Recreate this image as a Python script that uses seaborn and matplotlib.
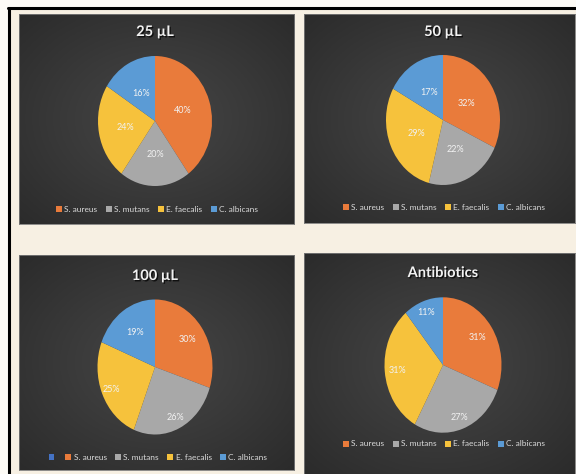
import numpy as np
import seaborn as sns
import matplotlib.pyplot as plt
import matplotlib.patheffects as pe
from matplotlib.patches import Patch
from matplotlib.lines import Line2D
from matplotlib.colors import LinearSegmentedColormap

# data
species = ['S. aureus', 'S. mutans', 'E. faecalis', 'C. albicans']
titles = ['25 µL', '50 µL', '100 µL', 'Antibiotics']
pct_25 = [40, 20, 24, 16]
pct_50 = [32, 22, 29, 17]
pct_100 = [30, 26, 25, 19]
pct_antibiotics = [31, 27, 31, 11]

sns.set_theme(style='dark')
plt.rcParams['font.family'] = ['Lato', 'DejaVu Sans']
colors = sns.color_palette(['#E97B3B', '#A8A8A8', '#F6C23C', '#5B9BD5'])

W, H = 576, 474
fig = plt.figure(figsize=(W / 100, H / 100), dpi=100)
fig.patch.set_facecolor('#fdfbf6')


def fx(x):
    return x / W


def fy(y):
    return 1 - y / H


# cream area inside the black frame
bg = fig.add_axes([fx(10), 0, 1 - fx(10), fy(9)])
bg.set_facecolor('#f7f0e3')
bg.set_xticks([])
bg.set_yticks([])
for s in bg.spines.values():
    s.set_visible(False)
fig.add_artist(Line2D([fx(8), 1], [fy(8), fy(8)], color='black', lw=2.2))
fig.add_artist(Line2D([fx(9), fx(9)], [0, fy(8)], color='black', lw=2.2))

# layout (pixels): panel box, pie centre and radii, title y, legend centre
layout = [
    dict(box=(19, 14, 294, 224), c=(155, 121), r=(57, 65), ty=32, leg=(157, 209),
         lr=[0.51, 0.52, 0.52, 0.49]),
    dict(box=(304, 14, 575, 223), c=(443, 120), r=(57, 65), ty=32, leg=(444, 207),
         lr=[0.48, 0.51, 0.51, 0.49]),
    dict(box=(19, 255, 294, 470), c=(155, 367), r=(57.5, 67.5), ty=276, leg=(158, 457),
         lr=[0.70, 0.83, 0.83, 0.61]),
    dict(box=(304, 253, 575, 474), c=(443, 365), r=(58.5, 67.7), ty=273, leg=(444, 444),
         lr=[0.72, 0.83, 0.79, 0.83]),
]
values = [pct_25, pct_50, pct_100, pct_antibiotics]

grad_cmap = LinearSegmentedColormap.from_list('panel', ['#464646', '#393939', '#2b2b2b'])
yy, xx = np.mgrid[-1:1:200j, -1:1:200j]
radial = np.sqrt(xx ** 2 + yy ** 2) / np.sqrt(2)

for i in range(4):
    L = layout[i]
    x0, y0, x1, y1 = L['box']
    pax = fig.add_axes([fx(x0), fy(y1), (x1 - x0) / W, (y1 - y0) / H])
    pax.imshow(radial, cmap=grad_cmap, aspect='auto', extent=(0, 1, 0, 1), vmin=0, vmax=1)
    pax.set_xticks([])
    pax.set_yticks([])
    for s in pax.spines.values():
        s.set_color('#7a7a7a')
        s.set_linewidth(0.6)

    cx, cy = L['c']
    rx, ry = L['r']
    ax = fig.add_axes([fx(cx - rx), fy(cy + ry), 2 * rx / W, 2 * ry / H])
    wedges, _, autotexts = ax.pie(values[i], colors=colors, startangle=90, counterclock=False,
                                  autopct='%1.0f%%', radius=1,
                                  wedgeprops=dict(linewidth=0),
                                  textprops=dict(color='#f2f2f2', fontsize=6.5))
    for w, t, r in zip(wedges, autotexts, L['lr']):
        ang = np.deg2rad((w.theta1 + w.theta2) / 2)
        t.set_position((r * np.cos(ang), r * np.sin(ang)))
    ax.set_aspect('auto')
    ax.set_xlim(-1, 1)
    ax.set_ylim(-1, 1)
    ax.axis('off')

    fig.text(fx(cx), fy(L['ty']), titles[i], ha='center', va='center', fontsize=10.5,
             fontweight='bold', color='#f2f2f2',
             path_effects=[pe.SimplePatchShadow(offset=(1, -1), shadow_rgbFace='black', alpha=0.7),
                           pe.Normal()])

    handles = [Patch(facecolor=c, edgecolor='none') for c in colors]
    labels = list(species)
    if i == 2:
        handles = [Patch(facecolor='#4472C4', edgecolor='none')] + handles
        labels = [''] + labels
    lx, ly = L['leg']
    fig.legend(handles, labels, loc='center', bbox_to_anchor=(fx(lx), fy(ly)),
               ncol=len(labels), frameon=False, fontsize=6, labelcolor='#d9d9d9',
               handlelength=0.7, handleheight=0.7, handletextpad=0.3, columnspacing=1.0)

fig.savefig('out.png', dpi=100, facecolor=fig.get_facecolor())
